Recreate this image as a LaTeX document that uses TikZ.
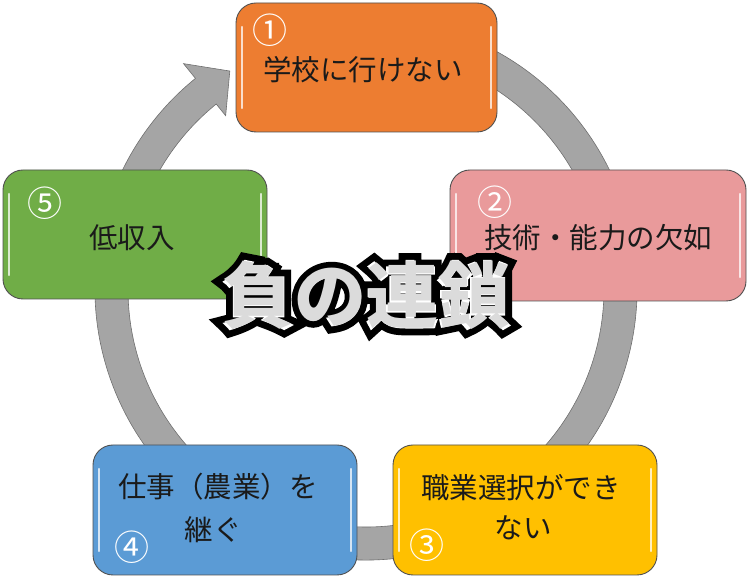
\documentclass[tikz,border=0pt]{standalone}
\usepackage{fontspec}
\setmainfont{Noto Sans CJK JP}
\newfontfamily\jpfont{Noto Sans CJK JP}
\newfontfamily\titleouter{Noto Sans CJK JP}[FakeBold=24]
\newfontfamily\titleinner{Noto Sans CJK JP}[FakeBold=5]
\usetikzlibrary{calc}
\definecolor{bandgray}{HTML}{A5A5A5}
\definecolor{bandline}{HTML}{6F6F6F}
\definecolor{cOrange}{HTML}{ED7D31}
\definecolor{cPink}{HTML}{E99A9B}
\definecolor{cGreen}{HTML}{70AD47}
\definecolor{cBlue}{HTML}{5B9BD5}
\definecolor{cYellow}{HTML}{FFC000}
\definecolor{boxline}{HTML}{505050}
\definecolor{txt}{HTML}{1A1A1A}
\tikzset{
  box/.style={draw=boxline, line width=0.9pt, rounded corners=20pt, inner sep=0pt, outer sep=0pt},
  hl/.style={draw=white, opacity=0.75, line width=2.4pt, line cap=round},
  lbl/.style={inner sep=0pt, text=txt, font=\jpfont\fontsize{28.5}{32}\selectfont},
  num/.style={inner sep=0pt, text=white, font=\jpfont\fontsize{35}{38}\selectfont},
  ttl/.style={inner sep=0pt, font=\bfseries\fontsize{74}{78}\selectfont}
}
\begin{document}
\begin{tikzpicture}[x=1pt,y=1pt]
\useasboundingbox (0,0) rectangle (750,578);
\coordinate (c) at (366,289);
% cycle band with arrowhead
\filldraw[fill=bandgray, draw=bandline, line width=0.6pt]
  ($(c)+(70:271pt)$) arc[start angle=70, end angle=-231, radius=271pt]
  -- ($(c)+(129:290pt)$) -- ($(c)+(122:257pt)$) -- ($(c)+(129:223pt)$)
  -- ($(c)+(129:238pt)$) arc[start angle=-231, end angle=70, radius=238pt] -- cycle;
% boxes
\node[box, fill=cOrange, minimum width=261pt, minimum height=129pt] (b1) at (366.5,510.5) {};
\node[box, fill=cPink,   minimum width=296pt, minimum height=131pt] (b2) at (598,342.5) {};
\node[box, fill=cYellow, minimum width=264pt, minimum height=130pt] (b3) at (525,68) {};
\node[box, fill=cBlue,   minimum width=264pt, minimum height=130pt] (b4) at (225,68) {};
\node[box, fill=cGreen,  minimum width=264pt, minimum height=129pt] (b5) at (135,343.5) {};
\foreach \b in {b1,b2,b3,b4,b5}{
  \draw[hl] ([xshift=6pt,yshift=-24pt]\b.north west) -- ([xshift=6pt,yshift=24pt]\b.south west);
  \draw[hl] ([xshift=-6pt,yshift=-24pt]\b.north east) -- ([xshift=-6pt,yshift=24pt]\b.south east);
}
% numbers
\node[num] (n1) at (270,548) {①};
\node[num] (n2) at (495,376) {②};
\node[num] (n3) at (427,33) {③};
\node[num] (n4) at (132,31) {④};
\node[num] (n5) at (45,375) {⑤};
% labels
\node[lbl] (t1) at (363,508) {学校に行けない};
\node[lbl] (t2) at (598,340) {技術・能力の欠如};
\node[lbl] (t3a) at (521,90) {職業選択ができ};
\node[lbl] (t3b) at (523,50) {ない};
\node[lbl] (t4a) at (218,91) {仕事（農業）を};
\node[lbl] (t4b) at (213,48) {継ぐ};
\node[lbl] (t5) at (132,340) {低収入};
% title
\node[ttl, text=black, font=\titleouter\fontsize{72}{78}\selectfont] (titleA) at (366,283) {負の連鎖};
\node[ttl, text=white, font=\titleinner\fontsize{72}{78}\selectfont] (titleB) at (366,283) {負の連鎖};
\node[ttl, text=black!14, font=\jpfont\bfseries\fontsize{72}{78}\selectfont] (title) at (366,283) {負の連鎖};
\end{tikzpicture}
\end{document}
